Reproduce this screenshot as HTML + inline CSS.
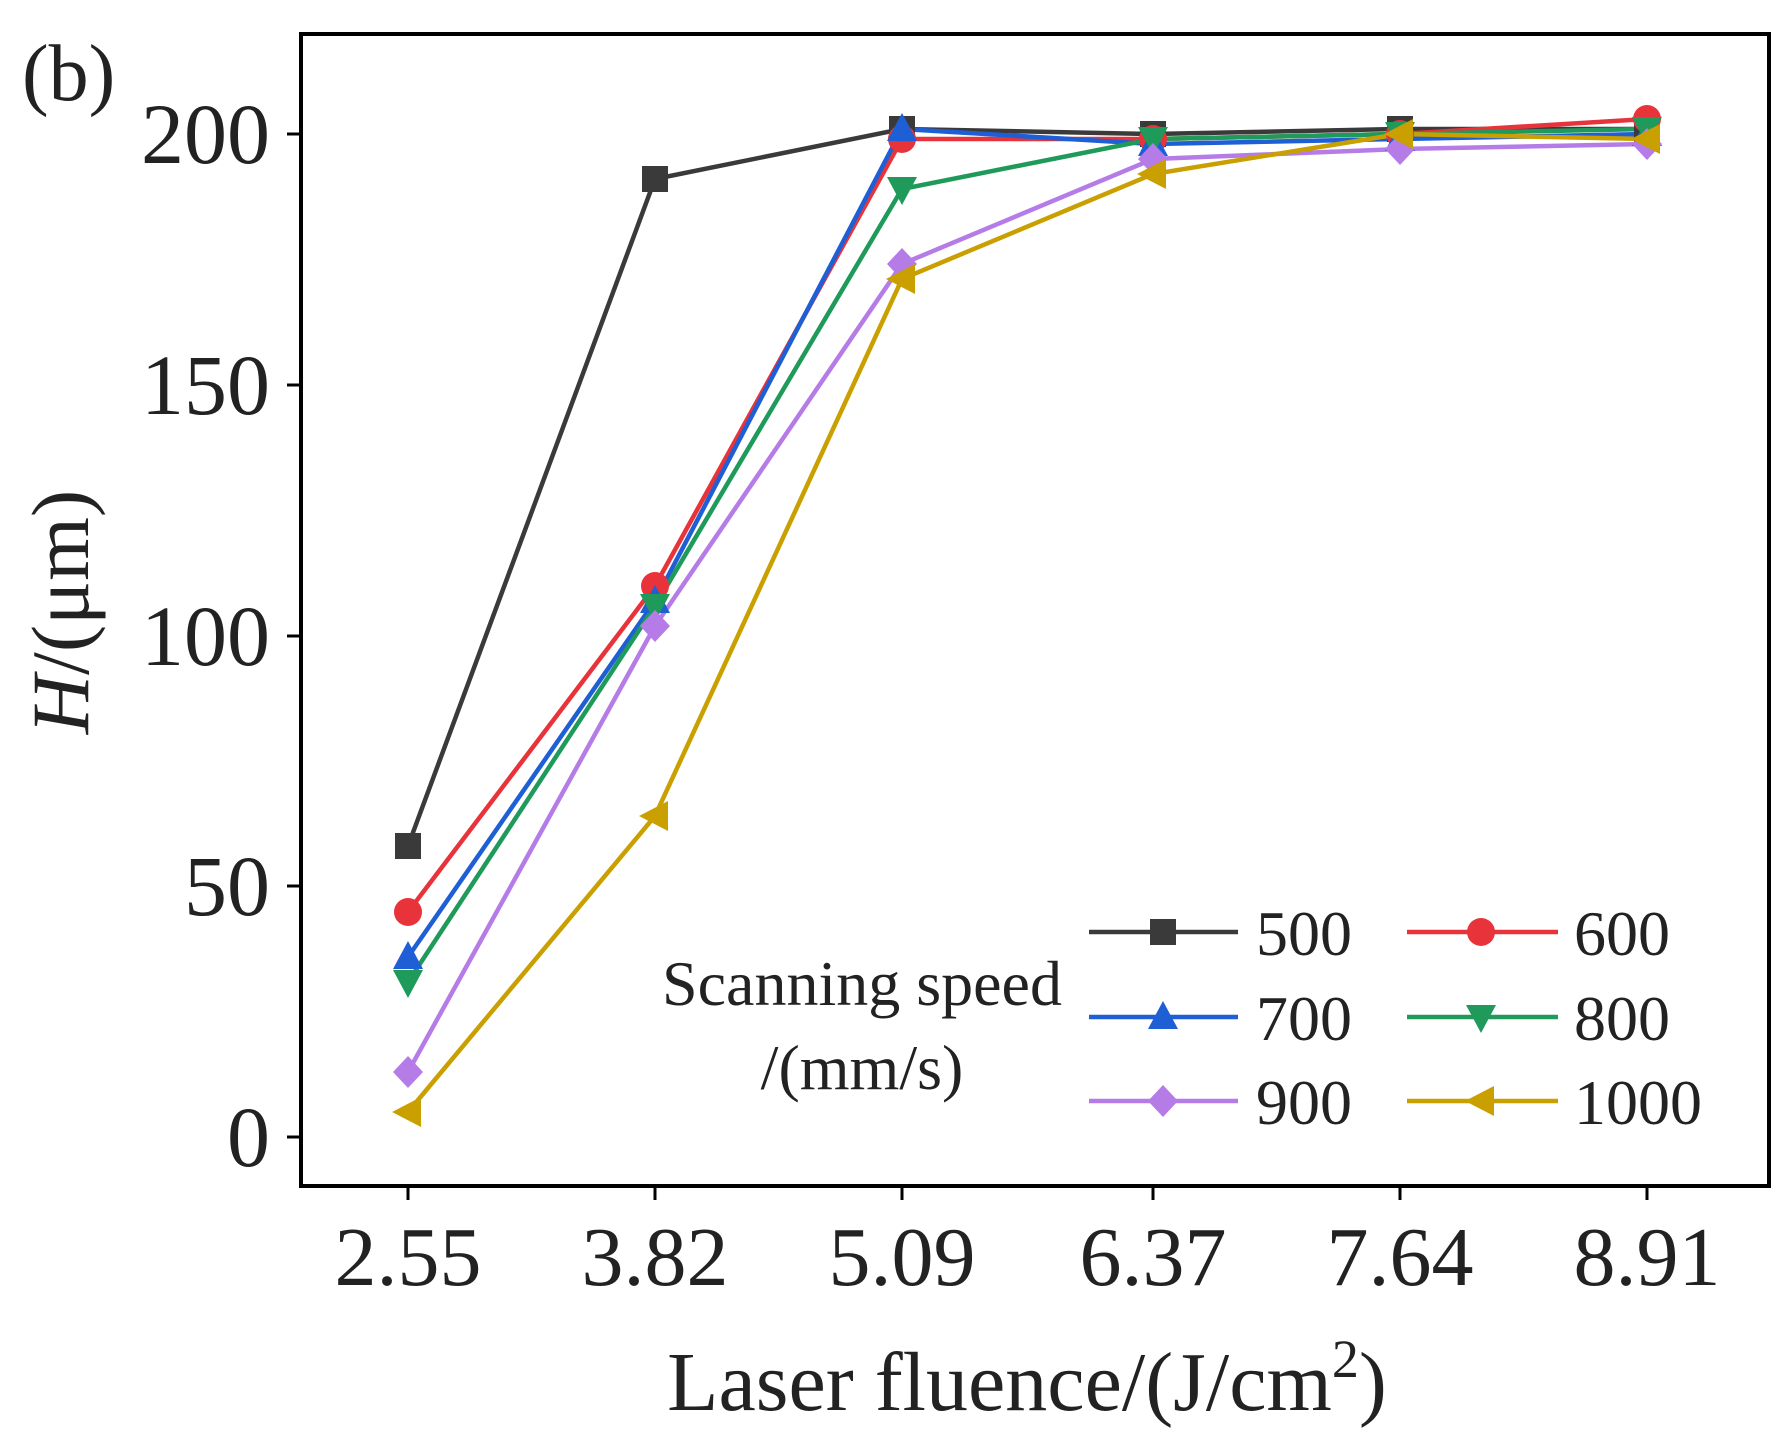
<!DOCTYPE html>
<html><head><style>body{margin:0;background:#fff}svg{display:block}</style></head><body>
<svg width="1784" height="1437" viewBox="0 0 1784 1437" xmlns="http://www.w3.org/2000/svg" font-family="Liberation Serif, serif">
<defs>
<g id="sq"><rect x="-13" y="-13" width="26" height="26"/></g>
<g id="ci"><circle r="14"/></g>
<g id="tu"><polygon points="0,-16 15,12 -15,12"/></g>
<g id="td"><polygon points="0,16 15,-12 -15,-12"/></g>
<g id="di"><polygon points="0,-16 15,0 0,16 -15,0"/></g>
<g id="tl"><polygon points="-16,0 13,-15 13,15"/></g>
</defs>
<rect x="301" y="34" width="1468" height="1152" fill="none" stroke="#000" stroke-width="4"/>
<g stroke="#000" stroke-width="3">
<line x1="408" y1="1186" x2="408" y2="1200"/><line x1="655" y1="1186" x2="655" y2="1200"/><line x1="902" y1="1186" x2="902" y2="1200"/><line x1="1153" y1="1186" x2="1153" y2="1200"/><line x1="1400" y1="1186" x2="1400" y2="1200"/><line x1="1647" y1="1186" x2="1647" y2="1200"/>
<line x1="287" y1="134" x2="301" y2="134"/><line x1="287" y1="385" x2="301" y2="385"/><line x1="287" y1="636" x2="301" y2="636"/><line x1="287" y1="886" x2="301" y2="886"/><line x1="287" y1="1137" x2="301" y2="1137"/>
</g>
<g font-size="86" text-anchor="end" fill="#222">
<text x="270" y="163">200</text><text x="270" y="414">150</text><text x="270" y="665">100</text><text x="270" y="915">50</text><text x="270" y="1166">0</text>
</g>
<g font-size="84" text-anchor="middle" fill="#222">
<text x="408" y="1285">2.55</text><text x="655" y="1285">3.82</text><text x="902" y="1285">5.09</text><text x="1153" y="1285">6.37</text><text x="1400" y="1285">7.64</text><text x="1647" y="1285">8.91</text>
</g>
<text x="1027" y="1410" font-size="84" text-anchor="middle" fill="#222">Laser fluence/(J/cm<tspan font-size="54" dy="-33">2</tspan><tspan dy="33">)</tspan></text>
<text transform="translate(88,612) rotate(-90)" font-size="82" text-anchor="middle" fill="#222"><tspan font-style="italic">H</tspan>/(μm)</text>
<text x="22" y="100" font-size="80" fill="#222">(b)</text>
<g fill="none" stroke-width="4.5">
<polyline stroke="#3a3a3a" points="408,846 655,179 902,129 1153,134 1400,129 1647,129"/>
<polyline stroke="#e8333a" points="408,912 655,586 902,139 1153,139 1400,134 1647,119"/>
<polyline stroke="#1f5fd6" points="408,957 655,601 902,129 1153,144 1400,139 1647,134"/>
<polyline stroke="#1f9a5a" points="408,982 655,606 902,189 1153,139 1400,134 1647,129"/>
<polyline stroke="#b57ce8" points="408,1072 655,626 902,264 1153,159 1400,149 1647,144"/>
<polyline stroke="#c9a000" points="408,1112 655,816 902,279 1153,174 1400,134 1647,139"/>
</g>
<g fill="#3a3a3a"><use href="#sq" x="408" y="846"/><use href="#sq" x="655" y="179"/><use href="#sq" x="902" y="129"/><use href="#sq" x="1153" y="134"/><use href="#sq" x="1400" y="129"/><use href="#sq" x="1647" y="129"/></g>
<g fill="#e8333a"><use href="#ci" x="408" y="912"/><use href="#ci" x="655" y="586"/><use href="#ci" x="902" y="139"/><use href="#ci" x="1153" y="139"/><use href="#ci" x="1400" y="134"/><use href="#ci" x="1647" y="119"/></g>
<g fill="#1f5fd6"><use href="#tu" x="408" y="957"/><use href="#tu" x="655" y="601"/><use href="#tu" x="902" y="129"/><use href="#tu" x="1153" y="144"/><use href="#tu" x="1400" y="139"/><use href="#tu" x="1647" y="134"/></g>
<g fill="#1f9a5a"><use href="#td" x="408" y="982"/><use href="#td" x="655" y="606"/><use href="#td" x="902" y="189"/><use href="#td" x="1153" y="139"/><use href="#td" x="1400" y="134"/><use href="#td" x="1647" y="129"/></g>
<g fill="#b57ce8"><use href="#di" x="408" y="1072"/><use href="#di" x="655" y="626"/><use href="#di" x="902" y="264"/><use href="#di" x="1153" y="159"/><use href="#di" x="1400" y="149"/><use href="#di" x="1647" y="144"/></g>
<g fill="#c9a000"><use href="#tl" x="408" y="1112"/><use href="#tl" x="655" y="816"/><use href="#tl" x="902" y="279"/><use href="#tl" x="1153" y="174"/><use href="#tl" x="1400" y="134"/><use href="#tl" x="1647" y="139"/></g>
<g stroke-width="4.5">
<line x1="1089" y1="932" x2="1238" y2="932" stroke="#3a3a3a"/><use href="#sq" x="1163" y="932" fill="#3a3a3a"/>
<line x1="1407" y1="932" x2="1558" y2="932" stroke="#e8333a"/><use href="#ci" x="1481" y="932" fill="#e8333a"/>
<line x1="1089" y1="1017" x2="1238" y2="1017" stroke="#1f5fd6"/><use href="#tu" x="1163" y="1017" fill="#1f5fd6"/>
<line x1="1407" y1="1017" x2="1558" y2="1017" stroke="#1f9a5a"/><use href="#td" x="1481" y="1017" fill="#1f9a5a"/>
<line x1="1089" y1="1101" x2="1238" y2="1101" stroke="#b57ce8"/><use href="#di" x="1163" y="1101" fill="#b57ce8"/>
<line x1="1407" y1="1101" x2="1558" y2="1101" stroke="#c9a000"/><use href="#tl" x="1481" y="1101" fill="#c9a000"/>
</g>
<g font-size="64" fill="#222">
<text x="1256" y="955">500</text><text x="1574" y="955">600</text>
<text x="1256" y="1040">700</text><text x="1574" y="1040">800</text>
<text x="1256" y="1124">900</text><text x="1574" y="1124">1000</text>
</g>
<g font-size="64" fill="#222" text-anchor="middle">
<text x="862" y="1005">Scanning speed</text><text x="862" y="1089">/(mm/s)</text>
</g>
</svg>
</body></html>
